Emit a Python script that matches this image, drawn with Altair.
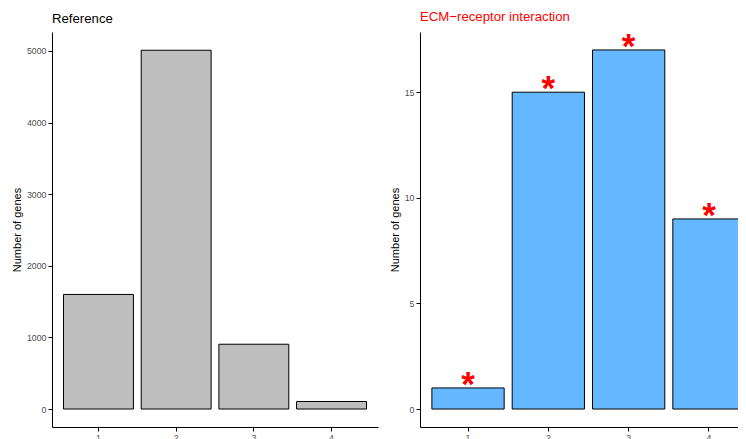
import altair as alt
import pandas as pd

cats = ["1", "2", "3", "4"]
ref_counts = [1600, 5010, 905, 105]
ecm_counts = [1, 15, 17, 9]
ecm_marks = ["*", "*", "*", "*"]

ref_df = pd.DataFrame({"cat": cats, "n": ref_counts})
ecm_df = pd.DataFrame({"cat": cats, "n": ecm_counts, "mark": ecm_marks})

FONT = "Liberation Sans"


def xaxis():
    return alt.Axis(title=None, labelAngle=0, labelFontSize=8.8, labelColor="#4D4D4D",
                    tickColor="black", domainColor="black", tickSize=4, labelPadding=2,
                    domainWidth=1, tickWidth=1)


def yaxis(vals):
    return alt.Axis(values=vals, format="d", title="Number of genes", labelFontSize=8.8,
                    labelColor="#4D4D4D", tickColor="black", domainColor="black", tickSize=4,
                    labelPadding=2, domainWidth=1, tickWidth=1, titleFontSize=11,
                    titleFontWeight="normal", titleColor="black", titlePadding=4)


xscale = alt.Scale(paddingInner=0.1, paddingOuter=0.148)


def title(text, color):
    return alt.TitleParams(text, anchor="start", frame="group", fontSize=13.2, fontWeight="normal",
                           color=color, font=FONT, offset=6)


left = alt.Chart(ref_df).mark_bar(color="#BEBEBE", stroke="black", strokeWidth=1).encode(
    x=alt.X("cat:N", scale=xscale, axis=xaxis()),
    y=alt.Y("n:Q", scale=alt.Scale(domain=[-251, 5265], nice=False, zero=False),
            axis=yaxis([0, 1000, 2000, 3000, 4000, 5000])),
    y2=alt.datum(0),
).properties(width=326, height=395, title=title("Reference", "black"))

rbase = alt.Chart(ecm_df).encode(
    x=alt.X("cat:N", scale=xscale, axis=xaxis()),
)
rbars = rbase.mark_bar(color="#63B8FF", stroke="black", strokeWidth=1).encode(
    y=alt.Y("n:Q", scale=alt.Scale(domain=[-0.85, 17.85], nice=False, zero=False),
            axis=yaxis([0, 5, 10, 15])),
    y2=alt.datum(0),
)
rtext = rbase.mark_text(color="#FF0000", fontSize=35, fontWeight="bold", baseline="alphabetic",
                        dy=8, font=FONT).encode(
    y=alt.Y("n:Q"),
    text="mark:N",
)
right = alt.layer(rbars, rtext).properties(
    width=337, height=395, title=title("ECM\u2212receptor interaction", "#FF0000"))

chart = alt.hconcat(left, right, spacing=11).properties(
    autosize=alt.AutoSizeParams(type="none"),
    padding={"left": 44, "top": 24, "right": 686, "bottom": 399},
).configure(font=FONT).configure_axis(grid=False, labelFont=FONT, titleFont=FONT).configure_view(stroke=None)

chart.save("out.html", embed_options={"renderer": "svg", "actions": False})
